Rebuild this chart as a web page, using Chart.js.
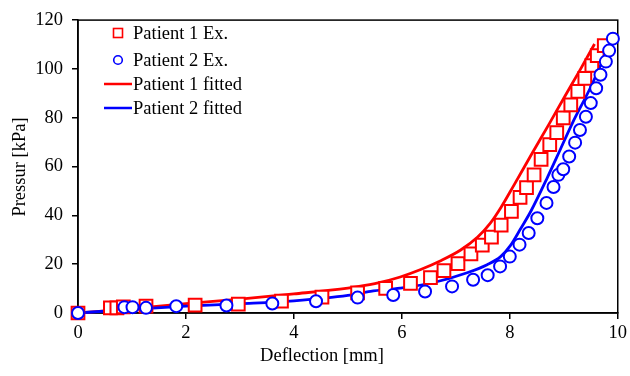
<!DOCTYPE html>
<html>
<head>
<meta charset="utf-8">
<script src="https://cdn.jsdelivr.net/npm/chart.js@4/dist/chart.umd.min.js"></script>
<style>
html,body{margin:0;padding:0;background:#fff;}
#wrap{width:630px;height:376px;position:relative;}
</style>
</head>
<body>
<div id="wrap"><canvas id="c" width="630" height="376"></canvas></div>
<script>
// Patient 1 experimental
const p1ExX = [0, 0.6, 0.72, 0.84, 1.26, 2.17, 2.97, 3.77, 4.52, 5.18, 5.70, 6.16, 6.53, 6.78, 7.04, 7.28, 7.49, 7.66, 7.84, 8.03, 8.19, 8.31, 8.45, 8.58, 8.74, 8.87, 8.99, 9.13, 9.26, 9.39, 9.52, 9.62, 9.75];
const p1ExY = [0, 2.1, 2.1, 2.5, 2.8, 3.2, 3.6, 4.9, 6.5, 8.2, 10.1, 12.1, 14.5, 17.4, 20.2, 24.2, 27.8, 31.1, 36.0, 41.6, 47.4, 51.4, 56.6, 62.9, 69.0, 73.9, 79.9, 85.3, 90.8, 96.1, 101.4, 105.4, 109.5];
// Patient 2 experimental
const p2ExX = [0, 0.86, 1.01, 1.26, 1.82, 2.75, 3.60, 4.41, 5.18, 5.84, 6.43, 6.93, 7.32, 7.59, 7.82, 8.00, 8.18, 8.35, 8.51, 8.68, 8.81, 8.90, 8.99, 9.10, 9.21, 9.30, 9.41, 9.50, 9.60, 9.68, 9.78, 9.84, 9.91];
const p2ExY = [0, 2.4, 2.4, 2.1, 2.8, 3.1, 3.9, 4.8, 6.3, 7.4, 8.8, 10.9, 13.6, 15.5, 19.1, 23.1, 28.0, 32.8, 38.8, 45.1, 51.6, 56.6, 58.9, 64.1, 69.8, 75.0, 80.4, 86.0, 92.1, 97.6, 103.0, 107.5, 112.4];
// Patient 1 fitted
const p1FitX = [0, 1, 2, 3, 4, 5, 5.5, 5.97, 6.35, 6.72, 7.09, 7.40, 7.64, 7.83, 8.08, 8.39, 8.73, 9.0, 9.3, 9.57];
const p1FitY = [0, 1.8, 3.8, 5.7, 7.8, 10.2, 12, 14.75, 17.8, 21.4, 25.8, 31.0, 36.8, 43.0, 52.5, 64.5, 77.5, 88, 99.5, 110.2];
// Patient 2 fitted
const p2FitX = [0, 1, 2, 3, 4, 5, 5.42, 5.97, 6.59, 7.21, 7.58, 7.83, 8.01, 8.2, 8.39, 8.70, 8.94, 9.16, 9.5, 9.88];
const p2FitY = [0, 1.5, 2.8, 3.8, 5.0, 7.2, 8.9, 10.2, 12.5, 16.5, 19.8, 23.1, 27.6, 34.5, 41.7, 55.7, 67.2, 77.8, 92.6, 111.5];

const xTicks = [0, 2, 4, 6, 8, 10];
const yTicks = [0, 20, 40, 60, 80, 100, 120];
const labels = ['Patient 1 Ex.', 'Patient 2 Ex.', 'Patient 1 fitted', 'Patient 2 fitted'];
const xTitle = 'Deflection [mm]';
const yTitle = 'Pressur [kPa]';

const FONT = '"Liberation Serif", "Times New Roman", serif';
const zip = (xs, ys) => xs.map((x, i) => ({x: x, y: ys[i]}));

const boxPlugin = {
  id: 'box',
  beforeDatasetsDraw(chart) {
    const a = chart.chartArea, ctx = chart.ctx;
    ctx.save();
    ctx.strokeStyle = '#000';
    ctx.lineWidth = 1.5;
    ctx.strokeRect(a.left, a.top, a.right - a.left, a.bottom - a.top);
    ctx.restore();
  },
  afterDraw(chart) {
    const ctx = chart.ctx;
    ctx.save();
    ctx.fillStyle = '#000';
    ctx.font = '18.5px ' + FONT;
    ctx.textBaseline = 'middle';
    ctx.textAlign = 'center';
    ctx.fillText(xTitle, 322, 356);
    ctx.translate(20, 167);
    ctx.rotate(-Math.PI / 2);
    ctx.fillText(yTitle, 0, 0);
    ctx.restore();

    // legend
    const ds = chart.data.datasets;
    const rows = [33, 60, 84, 108];
    ctx.save();
    ctx.font = '18.5px ' + FONT;
    ctx.textBaseline = 'middle';
    ctx.textAlign = 'left';
    ds.forEach((d, i) => {
      const y = rows[i];
      ctx.strokeStyle = d.borderColor;
      if (i === 0) {
        ctx.lineWidth = 1.6;
        ctx.fillStyle = '#fff';
        ctx.fillRect(113.5, y - 4.5, 9, 9);
        ctx.strokeRect(113.5, y - 4.5, 9, 9);
      } else if (i === 1) {
        ctx.lineWidth = 1.6;
        ctx.beginPath();
        ctx.arc(118, y, 4.3, 0, Math.PI * 2);
        ctx.stroke();
      } else {
        ctx.lineWidth = 2.5;
        ctx.beginPath();
        ctx.moveTo(104, y);
        ctx.lineTo(132, y);
        ctx.stroke();
      }
      ctx.fillStyle = '#000';
      ctx.fillText(d.label, 133, y + 1);
    });
    ctx.restore();
  }
};

new Chart(document.getElementById('c'), {
  type: 'scatter',
  data: {
    datasets: [
      {
        label: labels[0], data: zip(p1ExX, p1ExY),
        pointStyle: 'rect', pointRadius: 9, pointBorderWidth: 2,
        borderColor: '#ff0000', backgroundColor: '#ffffff',
        showLine: false, order: 1, clip: false
      },
      {
        label: labels[1], data: zip(p2ExX, p2ExY),
        pointStyle: 'circle', pointRadius: 6, pointBorderWidth: 2,
        borderColor: '#0000ff', backgroundColor: '#ffffff',
        showLine: false, order: 0, clip: false
      },
      {
        label: labels[2], data: zip(p1FitX, p1FitY),
        showLine: true, pointRadius: 0, borderWidth: 2.8,
        borderColor: '#ff0000', backgroundColor: '#ff0000',
        cubicInterpolationMode: 'monotone', order: 3, clip: false
      },
      {
        label: labels[3], data: zip(p2FitX, p2FitY),
        showLine: true, pointRadius: 0, borderWidth: 2.8,
        borderColor: '#0000ff', backgroundColor: '#0000ff',
        cubicInterpolationMode: 'monotone', order: 2, clip: false
      }
    ]
  },
  options: {
    responsive: false,
    animation: false,
    events: [],
    layout: { padding: { left: 0, right: 12, top: 12, bottom: 0 } },
    plugins: { legend: { display: false }, tooltip: { enabled: false } },
    scales: {
      x: {
        type: 'linear', min: 0, max: 10,
        afterBuildTicks: (s) => { s.ticks = xTicks.map(v => ({value: v})); },
        afterFit: (s) => { s.height = 63; },
        ticks: { color: '#000', font: { family: FONT, size: 18.5 }, padding: 3, maxRotation: 0 },
        grid: { drawOnChartArea: false, drawTicks: true, tickLength: 6, color: '#000', lineWidth: 1.5 },
        border: { display: true, color: '#000', width: 1.5 }
      },
      y: {
        type: 'linear', min: 0, max: 120,
        afterBuildTicks: (s) => { s.ticks = yTicks.map(v => ({value: v})); },
        afterFit: (s) => { s.width = 78; },
        ticks: { color: '#000', font: { family: FONT, size: 18.5 }, padding: 9 },
        grid: { drawOnChartArea: false, drawTicks: true, tickLength: 6, color: '#000', lineWidth: 1.5 },
        border: { display: true, color: '#000', width: 1.5 }
      }
    }
  },
  plugins: [boxPlugin]
});
</script>
</body>
</html>
